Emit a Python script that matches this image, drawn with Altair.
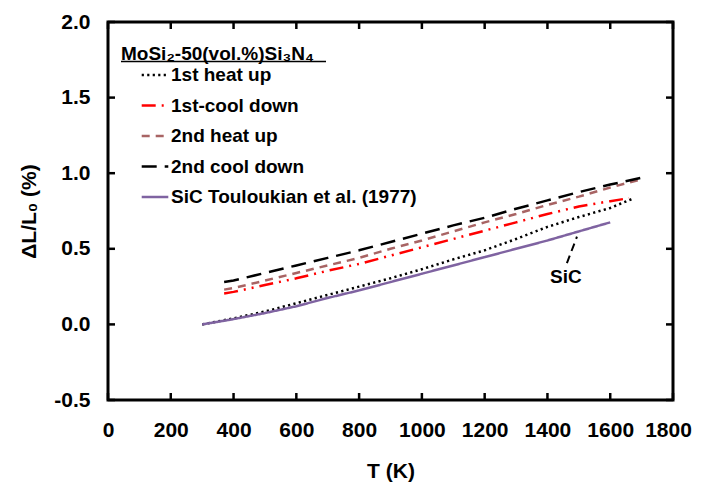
import altair as alt
import pandas as pd

FONT = "Liberation Sans"

series_names = ["1st heat up", "1st-cool down", "2nd heat up", "2nd cool down",
                "SiC Touloukian et al. (1977)"]
series_colors = ["#000000", "#FF0000", "#A86464", "#000000", "#7F63A1"]
series_dashes = [[2.2, 3.3], [14, 6, 2, 6, 2, 6], [8, 6], [15, 8], [1, 0]]

# 1st heat up
T_heat1 = [300, 400, 500, 600, 700, 800, 900, 1000, 1100, 1200, 1300, 1400, 1500, 1600, 1670]
v_heat1 = [0.0, 0.04, 0.085, 0.14, 0.195, 0.25, 0.305, 0.365, 0.43, 0.49, 0.565, 0.645, 0.71, 0.77, 0.83]
# 1st cool down
T_cool1 = [370, 400, 500, 600, 700, 800, 900, 1000, 1100, 1200, 1300, 1400, 1500, 1600, 1660]
v_cool1 = [0.205, 0.215, 0.26, 0.305, 0.355, 0.40, 0.455, 0.51, 0.565, 0.62, 0.675, 0.73, 0.78, 0.815, 0.835]
# 2nd heat up
T_heat2 = [370, 400, 500, 600, 700, 800, 900, 1000, 1100, 1200, 1300, 1400, 1500, 1600, 1690]
v_heat2 = [0.23, 0.24, 0.29, 0.34, 0.39, 0.44, 0.50, 0.555, 0.615, 0.675, 0.73, 0.79, 0.845, 0.905, 0.955]
# 2nd cool down
T_cool2 = [370, 400, 500, 600, 700, 800, 900, 1000, 1100, 1200, 1300, 1400, 1500, 1600, 1700]
v_cool2 = [0.28, 0.29, 0.34, 0.39, 0.44, 0.49, 0.545, 0.60, 0.655, 0.705, 0.765, 0.82, 0.875, 0.925, 0.97]
# SiC reference
T_sic = [300, 400, 500, 600, 700, 800, 900, 1000, 1100, 1200, 1300, 1400, 1500, 1600]
v_sic = [0.0, 0.035, 0.075, 0.12, 0.175, 0.225, 0.28, 0.335, 0.39, 0.445, 0.50, 0.555, 0.615, 0.675]

x_ticks = [0, 200, 400, 600, 800, 1000, 1200, 1400, 1600, 1800]
y_ticks = [-0.5, 0.0, 0.5, 1.0, 1.5, 2.0]

ann_T = [1494, 1462]
ann_v = [0.58, 0.405]
ann_label_T = [1459]
ann_label_v = [0.315]
ann_label = ["SiC"]

rows = []
for name, Ts, vs in zip(series_names,
                        [T_heat1, T_cool1, T_heat2, T_cool2, T_sic],
                        [v_heat1, v_cool1, v_heat2, v_cool2, v_sic]):
    for t, v in zip(Ts, vs):
        rows.append({"T": t, "v": v, "series": name})
df = pd.DataFrame(rows)

W, H = 565, 378
xscale = alt.Scale(domain=[0, 1800], nice=False, zero=False)
yscale = alt.Scale(domain=[-0.5, 2.0], nice=False, zero=False)

common_axis = dict(ticks=False, tickSize=0, domain=False, grid=False,
                   labelFontSize=21, labelFont=FONT, labelFontWeight="bold",
                   labelColor="black", labelOverlap=False, labelFlush=False,
                   labelBound=False,
                   titleFontSize=21, titleFont=FONT, titleFontWeight="bold",
                   titleColor="black")
x_axis = alt.Axis(values=x_ticks, format="d", title="T (K)",
                  labelOffset={"condition": {"test": "datum.value == 1800", "value": -5},
                               "value": 0},
                  labelPadding=19, titlePadding=20, **common_axis)
y_axis = alt.Axis(values=y_ticks, title="ΔL/L₀ (%)",
                  labelExpr="datum.value < 0 ? '-' + format(-datum.value, '.1f') : format(datum.value, '.1f')",
                  labelPadding=18, titlePadding=14, **common_axis)


def X(field="T"):
    return alt.X(f"{field}:Q", scale=xscale, axis=x_axis)


def Y(field="v"):
    return alt.Y(f"{field}:Q", scale=yscale, axis=y_axis)


lines = alt.Chart(df).mark_line(strokeWidth=2.5, clip=False).encode(
    x=X(), y=Y(),
    color=alt.Color("series:N",
                    scale=alt.Scale(domain=series_names, range=series_colors),
                    legend=alt.Legend(title="MoSi₂-50(vol.%)Si₃N₄", orient="none",
                                      legendX=13, legendY=23,
                                      symbolType="M-1.4,0H1.4", symbolSize=361,
                                      symbolStrokeWidth=2.5, symbolOffset=23,
                                      symbolFillColor="transparent",
                                      labelFont=FONT, labelFontSize=19,
                                      labelFontWeight="bold", labelColor="black",
                                      labelLimit=400, labelOffset=5,
                                      titleFont=FONT, titleFontSize=19,
                                      titleFontWeight="bold", titleColor="black",
                                      titleLimit=400, titlePadding=0,
                                      rowPadding=9.5, padding=0)),
    strokeDash=alt.StrokeDash("series:N",
                              scale=alt.Scale(domain=series_names, range=series_dashes),
                              legend=None),
    detail="series:N",
)

xt = pd.DataFrame({"T": x_ticks})
yt = pd.DataFrame({"v": y_ticks})
tick_style = dict(color="black", strokeWidth=2.5)
bottom_ticks = alt.Chart(xt).mark_rule(**tick_style).encode(
    x=X(), y=alt.value(H), y2=alt.value(H - 7))
top_ticks = alt.Chart(xt).mark_rule(**tick_style).encode(
    x=X(), y=alt.value(0), y2=alt.value(7))
left_ticks = alt.Chart(yt).mark_rule(**tick_style).encode(
    y=Y(), x=alt.value(0), x2=alt.value(7))
right_ticks = alt.Chart(yt).mark_rule(**tick_style).encode(
    y=Y(), x=alt.value(W), x2=alt.value(W - 7))

ann_df = pd.DataFrame({"T": ann_T, "v": ann_v})
pointer = alt.Chart(ann_df).mark_line(color="black", strokeWidth=2,
                                       strokeDash=[8, 5]).encode(x=X(), y=Y())
lab_df = pd.DataFrame({"T": ann_label_T, "v": ann_label_v, "t": ann_label})
ann_text = alt.Chart(lab_df).mark_text(font=FONT, fontSize=19, fontWeight="bold",
                                       color="black", align="center",
                                       baseline="middle").encode(
    x=X(), y=Y(), text="t:N")

underline = alt.Chart(pd.DataFrame({"a": [0]})).mark_rule(color="black", strokeWidth=1.5).encode(
    x=alt.value(13), x2=alt.value(218), y=alt.value(39.5))

chart = alt.layer(lines, pointer, ann_text, bottom_ticks, top_ticks, left_ticks,
                  right_ticks, underline).properties(
    width=W, height=H,
    background="white",
    autosize=alt.AutoSizeParams(type="none"),
    padding={"left": 100, "top": 14, "right": 20, "bottom": 83},
).configure_view(stroke="black", strokeWidth=3)

chart.save("out.html", embed_options={"renderer": "svg", "actions": False})
